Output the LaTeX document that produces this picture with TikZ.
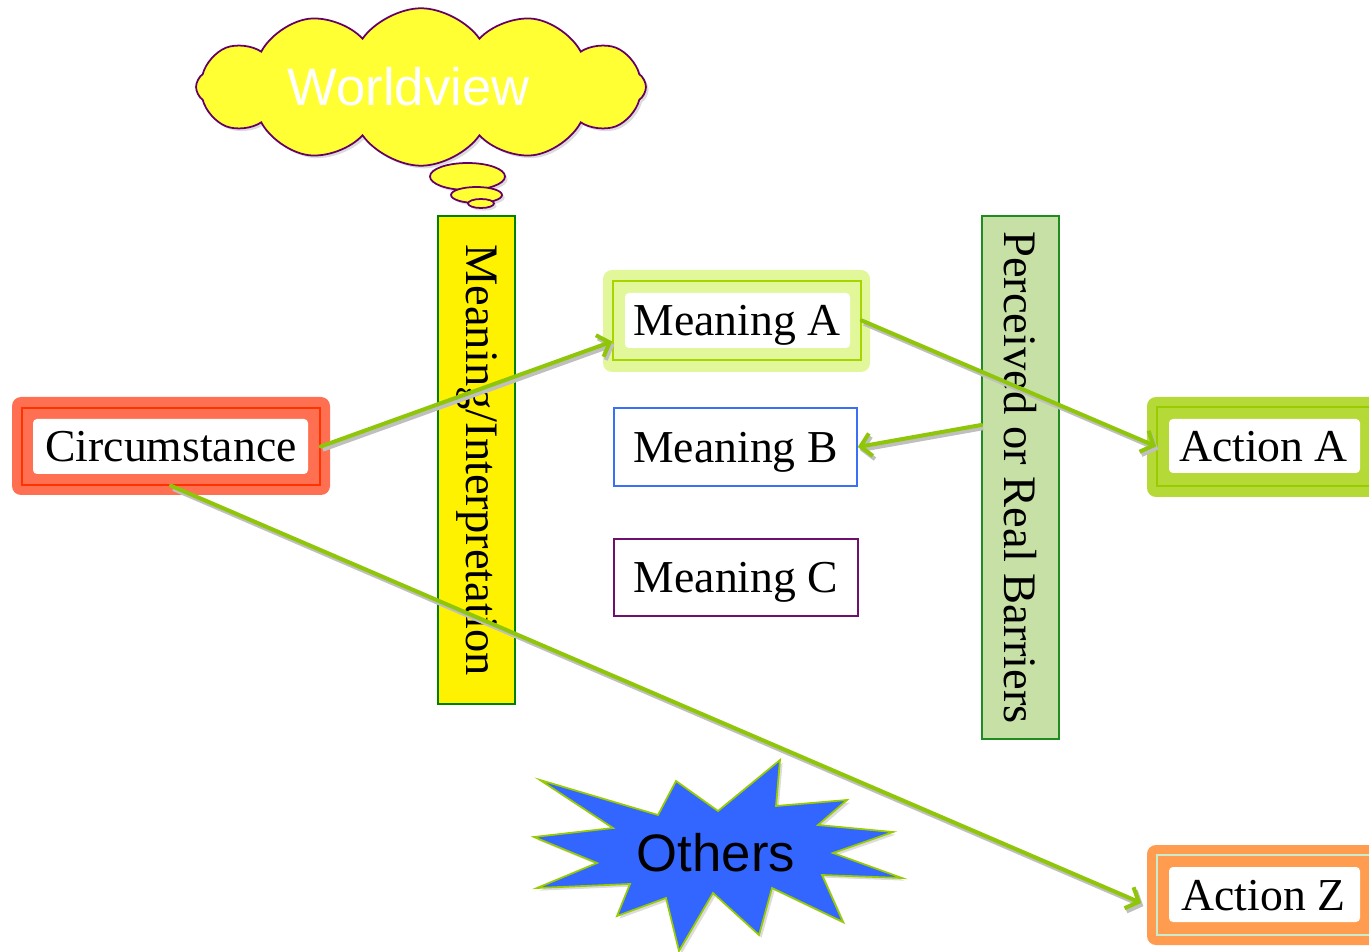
\documentclass[tikz,border=0pt]{standalone}
\usepackage{fontspec}
\setmainfont{Liberation Serif}
\newfontfamily\sansA{Liberation Sans}
\usetikzlibrary{arrows.meta,shapes.symbols,shapes.geometric,shadows,calc}
\definecolor{arrowgreen}{HTML}{90C60A}
\definecolor{cloudyellow}{HTML}{FFFF33}
\definecolor{cloudpurple}{HTML}{660066}
\definecolor{circglow}{HTML}{FF7052}
\definecolor{circborder}{HTML}{FF3300}
\definecolor{maglow}{HTML}{E2F79A}
\definecolor{maborder}{HTML}{A8D400}
\definecolor{aaglow}{HTML}{B5D936}
\definecolor{aaborder}{HTML}{99CC00}
\definecolor{azglow}{HTML}{FF9C50}
\definecolor{azborder}{HTML}{C8ECCC}
\definecolor{mbborder}{HTML}{3A6FF7}
\definecolor{mcborder}{HTML}{6F0F6F}
\definecolor{miborder}{HTML}{008000}
\definecolor{pbfill}{HTML}{C6E0A5}
\definecolor{pbborder}{HTML}{1E8C1E}
\definecolor{starblue}{HTML}{3366FF}
\definecolor{stargreen}{HTML}{99CC00}
\tikzset{
  lbl/.style={font=\fontsize{26}{30}\selectfont, text=black, inner sep=0pt, text depth=0pt},
  boxline/.style={draw, line width=0.9pt, fill=none, rectangle},
  arr/.style={draw=arrowgreen, line width=2.3pt, line cap=round,
    -{Straight Barb[length=6pt,width=13pt]},
    preaction={draw=gray!50, line width=2.3pt, transform canvas={shift={(1.2pt,-1.8pt)}}}},
  shad/.style={drop shadow={shadow xshift=1.5pt, shadow yshift=-1.5pt, fill=gray!55}},
}
\begin{document}
\begin{tikzpicture}[x=0.02cm, y=-0.02cm]
\useasboundingbox (0,0) rectangle (1369,952);
\clip (0,0) rectangle (1369,952);

% cloud
\node[cloud, cloud puffs=12, cloud puff arc=110, cloud ignores aspect,
  minimum width=9.0cm, minimum height=3.15cm, fill=cloudyellow,
  draw=cloudpurple, line width=1pt, shad, inner sep=0pt] (wv) at (421,87)
  {\hspace*{-0.5cm}\sansA\fontsize{30}{36}\selectfont\color{white}Worldview};
\node[ellipse, fill=cloudyellow, draw=cloudpurple, line width=1pt, shad,
  minimum width=1.5cm, minimum height=0.54cm, inner sep=0pt] (b1) at (467.5,176.5) {};
\node[ellipse, fill=cloudyellow, draw=cloudpurple, line width=1pt, shad,
  minimum width=1.02cm, minimum height=0.32cm, inner sep=0pt] (b2) at (476.5,195) {};
\node[ellipse, fill=cloudyellow, draw=cloudpurple, line width=1pt, shad,
  minimum width=0.52cm, minimum height=0.18cm, inner sep=0pt] (b3) at (481,203.5) {};

% vertical boxes
\node[boxline, draw=miborder, fill=yellow, rotate=-90, minimum width=9.76cm,
  minimum height=1.54cm, font=\fontsize{26.5}{30}\selectfont] (mi) at (476.5,460) {Meaning/Interpretation};
\node[boxline, draw=pbborder, fill=pbfill, rotate=-90, minimum width=10.46cm,
  minimum height=1.54cm, font=\fontsize{26.5}{30}\selectfont] (pb) at (1020.5,477.5) {Perceived or Real Barriers};

% Circumstance
\fill[circglow, rounded corners=0.18cm] (12,397) rectangle (330,495);
\fill[white, rounded corners=0.08cm] (33,419) rectangle (308,474);
\node[boxline, draw=circborder, minimum width=5.96cm, minimum height=1.54cm, lbl] (circ) at (171,446.5) {Circumstance};

% Meaning A
\fill[maglow, rounded corners=0.18cm] (603,270) rectangle (870,372);
\fill[white, rounded corners=0.08cm] (625,293) rectangle (850,348);
\node[boxline, draw=maborder, minimum width=4.96cm, minimum height=1.58cm, lbl] (mA) at (737,320.5) {Meaning A};

% Meaning B, C
\node[boxline, draw=mbborder, fill=white, minimum width=4.86cm, minimum height=1.56cm, lbl] (mB) at (735.5,447) {Meaning B};
\node[boxline, draw=mcborder, fill=white, minimum width=4.88cm, minimum height=1.54cm, lbl] (mC) at (736,577.5) {Meaning C};

% Action A
\fill[aaglow, rounded corners=0.18cm] (1147,397) rectangle (1390,497);
\fill[white, rounded corners=0.08cm] (1169,419) rectangle (1360,473);
\node[boxline, draw=aaborder, minimum width=4.26cm, minimum height=1.58cm, lbl] (aA) at (1263.5,446.5) {Action A};

% Action Z
\fill[azglow, rounded corners=0.18cm] (1147,845) rectangle (1390,945);
\fill[white, rounded corners=0.08cm] (1169,867) rectangle (1360,922);
\node[boxline, draw=azborder, minimum width=4.26cm, minimum height=1.6cm, lbl] (aZ) at (1263.5,895) {Action Z};

% starburst
\draw[fill=starblue, draw=stargreen, line width=1pt, shad, line join=miter]
  (540,780) -- (658,815) -- (676,781) -- (718,811) -- (780,760) -- (776,806)
  -- (847,800) -- (818,825) -- (893,832) -- (833,853) -- (902,878) -- (822,875)
  -- (843,922) -- (772,888) -- (759,935) -- (713,893) -- (679,951) -- (666,898)
  -- (617,916) -- (630,884) -- (537,888) -- (597,863) -- (534,837) -- (613,828) -- cycle;
\node[font=\sansA\fontsize{30}{36}\selectfont, text=black, inner sep=0pt] (others) at (716,853) {Others};

% arrows
\draw[arr] (circ.east) -- ([yshift=-0.42cm]mA.west);
\draw[arr] (mA.east) -- (aA.west);
\draw[arr] (pb.south |- 0,425) -- (mB.east);
\draw[arr] (circ.south) -- ([xshift=-0.3cm,yshift=-0.16cm]aZ.west);
\end{tikzpicture}
\end{document}
